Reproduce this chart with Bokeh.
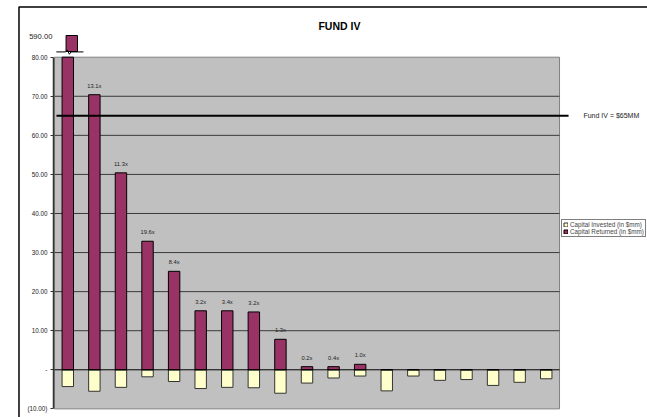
from bokeh.plotting import figure
from bokeh.models import Range1d, FixedTicker, Legend, LegendItem
from bokeh.core.properties import value
from bokeh.embed import file_html
from bokeh.resources import INLINE

# Fund IV portfolio: capital returned vs. capital invested per company ($mm)
capital_returned = [590.0, 70.4, 50.4, 32.9, 25.2, 15.1, 15.1, 14.8, 7.8,
                    0.8, 0.8, 1.4, 0.0, 0.0, 0.0, 0.0, 0.0, 0.0, 0.0]
capital_invested = [4.3, 5.5, 4.5, 1.8, 3.0, 4.8, 4.5, 4.6, 6.0,
                    3.4, 2.1, 1.6, 5.4, 1.6, 2.7, 2.5, 4.0, 3.2, 2.3]
multiples = [None, 13.1, 11.3, 19.6, 8.4, 3.2, 3.4, 3.2, 1.3,
             0.2, 0.4, 1.0, None, None, None, None, None, None, None]
y_ticks = [-10, 0, 10, 20, 30, 40, 50, 60, 70, 80]
fund_size = 65
fund_label = f"Fund IV = ${fund_size}MM"
title_text = "FUND IV"
legend_names = ["Capital Invested (in $mm)", "Capital Returned (in $mm)"]

AXIS_MIN, AXIS_MAX = y_ticks[0], y_ticks[-1]
FONT = "Liberation Sans"
PLUM = "#993366"
CREAM = "#FFFFCC"

n = len(capital_returned)
xs = [i + 0.5 for i in range(n)]
bar_w = 0.43

p = figure(width=647, height=417, output_backend="svg", toolbar_location=None,
           x_range=Range1d(-1.392, 22.31), y_range=Range1d(-12.21, 93.23),
           x_axis_location=None, min_border_left=17, min_border_top=5,
           min_border_right=0, min_border_bottom=0)
p.outline_line_color = None
p.background_fill_color = "white"
p.border_fill_color = "white"
p.xgrid.visible = False
p.ygrid.visible = False

# outer chart box (right and bottom edges run off the page)
p.quad(left=-1.336, right=100, top=92.85, bottom=-100, fill_color=None,
       line_color="black", line_width=1.5)

# grey plot area
p.quad(left=0, right=n, bottom=AXIS_MIN, top=AXIS_MAX, fill_color="#C0C0C0",
       line_color="#808080", line_width=1)

# horizontal gridlines
grid_y = [t for t in y_ticks if AXIS_MIN < t < AXIS_MAX and t != 0]
p.segment(x0=[0] * len(grid_y), x1=[n] * len(grid_y), y0=grid_y, y1=grid_y,
          line_color="#3a3a3a", line_width=1)

# bars: returned above zero (clipped at axis top), invested below zero
shown_returned = [min(v, AXIS_MAX) for v in capital_returned]
neg_invested = [-v for v in capital_invested]
r_inv = p.vbar(x=xs, top=0, bottom=neg_invested, width=bar_w,
               fill_color=CREAM, line_color="#333333", line_width=1)
r_ret = p.vbar(x=xs, top=shown_returned, bottom=0, width=bar_w,
               fill_color=PLUM, line_color="black", line_width=1)

# zero line
p.segment(x0=[0], x1=[n], y0=[0], y1=[0], line_color="black", line_width=1)

# broken-axis stub for values beyond the axis top
over = [i for i, v in enumerate(capital_returned) if v > AXIS_MAX]
stub_lo, stub_hi = AXIS_MAX + 1.45, AXIS_MAX + 5.55
for i in over:
    cx = xs[i]
    p.vbar(x=[cx + 0.15], bottom=[stub_lo], top=[stub_hi], width=bar_w,
           fill_color=PLUM, line_color="black", line_width=1)
    yb = AXIS_MAX + 1.35
    p.line(x=[cx - 0.43, cx - 0.08, cx - 0.02, cx + 0.06, cx + 0.12, cx + 0.59],
           y=[yb, yb, yb + 0.5, yb - 0.6, yb, yb], line_color="black", line_width=1)
    p.text(x=[-0.08], y=[AXIS_MAX + 5.2], text=[f"{capital_returned[i]:.2f}"],
           text_align="right", text_baseline="middle", text_font=value(FONT),
           text_font_size="7.6px", text_color="#222222")

# multiple labels above bars
lab_x = [xs[i] for i, m in enumerate(multiples) if m is not None]
lab_y = [shown_returned[i] for i, m in enumerate(multiples) if m is not None]
lab_t = [f"{m:.1f}x" for m in multiples if m is not None]
p.text(x=lab_x, y=lab_y, text=lab_t, text_align="center", text_baseline="middle",
       y_offset=-9, text_font=value(FONT), text_font_size="5.8px",
       text_color="#222222")

# fund size reference line
p.line(x=[0.075, 19.34], y=[fund_size, fund_size], line_color="black", line_width=2)
p.text(x=[19.9], y=[fund_size], text=[fund_label], text_align="left",
       text_baseline="middle", text_font=value(FONT), text_font_size="7px",
       text_color="#222222")

# chart title
p.text(x=[10.72], y=[88.1], text=[title_text], text_align="center",
       text_baseline="middle", text_font=value(FONT), text_font_size="10.5px",
       text_font_style="bold", text_color="black")

# value axis placed at the left edge of the grey area
def fmt(t):
    if t == 0:
        return "-"
    if t < 0:
        return f"({abs(t):.2f})"
    return f"{t:.2f}"

ax = p.yaxis[0]
ax.fixed_location = -0.04
ax.bounds = (AXIS_MIN, AXIS_MAX)
ax.ticker = FixedTicker(ticks=y_ticks)
ax.major_label_overrides = {t: fmt(t) for t in y_ticks}
ax.major_label_text_font = FONT
ax.major_label_text_font_size = "6.3px"
ax.major_label_text_color = "#222222"
ax.major_label_standoff = 3
ax.axis_line_color = "#333333"
ax.axis_line_width = 1.5
ax.major_tick_line_color = "#333333"
ax.major_tick_out = 3
ax.major_tick_in = 0
ax.minor_tick_line_color = None

legend = Legend(items=[LegendItem(label=legend_names[0], renderers=[r_inv]),
                       LegendItem(label=legend_names[1], renderers=[r_ret])],
                location=(544, 180), orientation="vertical",
                glyph_width=5, glyph_height=5, label_text_font=FONT,
                label_text_font_size="6.3px", label_height=5, label_standoff=2,
                padding=1, spacing=0, margin=0, border_line_color="black",
                border_line_width=1, background_fill_color="white",
                background_fill_alpha=1.0)
p.add_layout(legend)

open("out.html", "w").write(file_html(p, INLINE))
